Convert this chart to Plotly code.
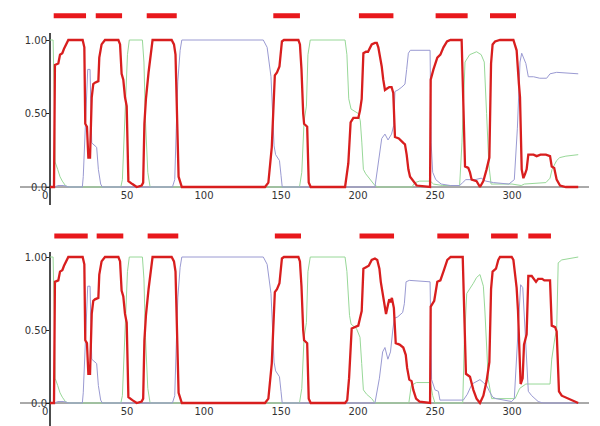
import plotly.graph_objects as go

# ---------------- data: top panel ----------------
top_red_x = [0, 2.6, 3.2, 5.4, 6.5, 8.0, 9.1, 10.5, 11.9, 21.2, 22.3, 22.9, 24.0, 24.9, 26.0, 27.1, 28.1, 29.2, 31.4, 32.0,
             33.5, 35.7, 44.4, 45.5, 46.5, 47.6, 48.7, 49.8, 50.9, 53.5, 56.3, 59.5, 60.5, 61.3, 62.3, 64.0, 65.5, 66.6,
             79.0, 80.5, 81.5, 82.5, 83.5, 85.6, 139.6, 141.8, 144.0, 146.0, 147.4, 149.0, 150.6, 151.9, 161.3, 162.3,
             163.3, 164.4, 165.0, 167.0, 168.0, 169.3, 191.6, 193.7, 195.2, 197.0, 200.2, 201.3, 202.4, 203.5, 205.2,
             206.5, 207.4, 208.9, 211.0, 212.2, 213.2, 214.3, 215.4, 216.4, 217.5, 218.9, 220.3, 221.8, 222.9, 224.0,
             226.5, 229.4, 230.5, 231.6, 232.7, 233.8, 235.9, 238.1, 246.8, 247.2, 249.0, 251.5, 253.5, 255.5, 257.8,
             260.0, 267.3, 269.5, 271.6, 272.7, 273.8, 277.0, 279.2, 281.4, 283.5, 285.3, 286.4, 287.4, 289.0, 292.2,
             300.9, 303.0, 304.5, 305.2, 306.3, 307.4, 308.5, 309.5, 310.6, 314.0, 316.0, 318.5, 322.0, 324.7, 325.8,
             327.4, 329.0, 331.2, 335.0, 343.0]
top_red_y = [0, 0, 0.83, 0.84, 0.90, 0.91, 0.94, 0.97, 1.0, 1.0, 0.95, 0.43, 0.41, 0.20, 0.20, 0.61, 0.70, 0.71, 0.72, 0.88,
             0.97, 1.0, 1.0, 0.97, 0.77, 0.73, 0.61, 0.55, 0.04, 0.02, 0.0, 0.01, 0.03, 0.43, 0.60, 0.78, 0.93, 1.0,
             1.0, 0.97, 0.90, 0.55, 0.07, 0.0, 0.0, 0.03, 0.27, 0.76, 0.78, 0.82, 0.99, 1.0, 1.0, 0.97,
             0.80, 0.50, 0.43, 0.41, 0.03, 0.0, 0.0, 0.16, 0.44, 0.47, 0.47, 0.52, 0.60, 0.91, 0.92,
             0.92, 0.94, 0.97, 0.98, 0.98, 0.95, 0.89, 0.82, 0.73, 0.66, 0.67, 0.68, 0.68, 0.64, 0.34,
             0.33, 0.30, 0.29, 0.22, 0.12, 0.07, 0.04, 0.01, 0.0, 0.73, 0.80, 0.88, 0.90, 0.95, 0.99,
             1.0, 1.0, 0.14, 0.13, 0.10, 0.05, 0.04, 0.0, 0.04, 0.12, 0.20, 0.84, 0.97, 0.99, 1.0,
             1.0, 0.93, 0.70, 0.61, 0.12, 0.06, 0.09, 0.12, 0.22, 0.22, 0.21, 0.22, 0.22, 0.21, 0.14,
             0.13, 0.05, 0.01, 0.0, 0.0]

top_blue_x = [0, 3, 5, 9, 12, 21.0, 21.6, 22.7, 24.5, 26.0, 26.6, 27.1, 30.3, 31.4, 32.9, 34.0, 79.5, 81.0, 82.0, 83.0,
              84.5, 85.6, 138.5, 141.0, 143.5, 144.5, 145.5, 146.5, 149.0, 150.0, 150.8, 211.0, 213.2, 215.4, 217.5,
              219.5, 221.8, 223.2, 224.0, 226.0, 228.5, 230.5, 231.6, 232.7, 234.0, 246.8, 247.5, 248.5, 250.5, 254.0,
              260.0, 266.0, 268.0, 270.0, 276.0, 280.0, 283.0, 288.0, 298.0, 301.5, 303.5, 305.2, 306.3, 307.4, 309.0,
              310.6, 314.0, 318.0, 322.5, 324.7, 329.0, 343.0]
top_blue_y = [0.0, 0.0, 0.01, 0.01, 0.0, 0.0, 0.07, 0.40, 0.80, 0.80, 0.40, 0.30, 0.27, 0.12, 0.02, 0.0, 0.0, 0.05, 0.40, 0.72,
              0.93, 1.0, 1.0, 0.95, 0.75, 0.50, 0.28, 0.22, 0.18, 0.08, 0.0, 0.0, 0.16, 0.33, 0.36,
              0.32, 0.36, 0.42, 0.65, 0.66, 0.68, 0.70, 0.80, 0.91, 0.93, 0.93, 0.30, 0.10, 0.05, 0.02,
              0.01, 0.01, 0.03, 0.05, 0.05, 0.06, 0.04, 0.03, 0.02, 0.05, 0.40, 0.85, 0.91, 0.88, 0.84,
              0.75, 0.75, 0.74, 0.74, 0.77, 0.78, 0.77]

top_green_x = [0, 2.0, 2.8, 3.3, 5.0, 6.5, 8.0, 10.0, 12.0, 46.0, 47.0, 48.0, 49.0, 50.3, 51.5, 60.0, 61.0, 62.0, 63.5,
               65.0, 162.0, 163.5, 165.0, 166.5, 167.5, 169.0, 191.6, 192.8, 194.0, 195.5, 200.2, 201.5, 202.5, 203.5,
               205.0, 208.0, 211.0, 213.0, 235.0, 237.0, 240.0, 247.0, 249.0, 255.0, 266.0, 267.5, 269.5, 272.5, 277.0,
               280.0, 282.0, 283.5, 285.0, 286.4, 300.0, 306.0, 308.0, 322.0, 324.7, 326.0, 329.0, 331.0, 335.0, 343.0]
top_green_y = [1.0, 1.0, 0.60, 0.17, 0.12, 0.07, 0.04, 0.01, 0.0, 0.0, 0.05, 0.30, 0.48, 0.90, 1.0, 1.0, 0.85, 0.45, 0.10,
               0.0, 0.0, 0.10, 0.45, 0.55, 0.90, 1.0, 1.0, 0.90, 0.60, 0.53, 0.50, 0.45, 0.30, 0.12,
               0.09, 0.05, 0.01, 0.0, 0.0, 0.03, 0.04, 0.04, 0.02, 0.01, 0.01, 0.30, 0.85, 0.90, 0.92,
               0.90, 0.85, 0.50, 0.15, 0.02, 0.02, 0.01, 0.02, 0.03, 0.06, 0.12, 0.18, 0.20, 0.21, 0.22]

top_bar_start = [2.4, 29.7, 62.8, 145.0, 200.6, 250.4, 285.7]
top_bar_end = [23.4, 46.8, 82.3, 162.3, 223.0, 271.2, 302.6]

# ---------------- data: bottom panel ----------------
bot_red_x = [0, 2.6, 3.2, 5.4, 6.5, 8.0, 9.1, 10.5, 11.9, 21.2, 22.3, 22.9, 24.0, 24.9, 26.0, 27.1, 28.1, 29.2, 31.4, 32.0,
             33.5, 35.7, 44.4, 45.5, 46.5, 47.6, 48.7, 49.8, 50.9, 53.5, 56.3, 59.5, 60.5, 61.3, 62.3, 64.0, 65.5, 66.6,
             79.0, 80.5, 81.5, 82.5, 83.5, 85.6, 139.6, 141.8, 144.0, 146.0, 147.4, 149.0, 150.6, 151.9, 161.3, 162.3,
             163.3, 164.4, 165.0, 167.0, 168.0, 169.3, 191.6, 193.0, 194.2, 195.9, 198.0, 200.2, 201.3, 202.4, 203.5,
             205.5, 207.0, 208.9, 211.0, 212.5, 213.9, 214.8, 216.0, 217.3, 218.2, 219.4, 220.3, 221.2, 222.0, 223.3,
             224.5, 227.0, 229.4, 231.0, 231.9, 233.3, 234.8, 235.9, 237.7, 240.0, 246.8, 247.2, 249.5, 251.5, 253.5,
             255.8, 258.0, 260.2, 268.0, 270.1, 272.7, 274.9, 277.0, 279.2, 281.4, 283.5, 285.3, 286.4, 287.4, 289.6,
             291.1, 292.2, 299.8, 300.9, 303.0, 303.9, 304.8, 305.6, 306.9, 307.8, 309.5, 310.6, 312.8, 314.5, 315.6,
             317.0, 319.6, 321.0, 324.7, 325.8, 328.0, 329.0, 329.7, 330.5, 332.3, 334.4, 336.6, 340.0, 343.0]
bot_red_y = [0, 0, 0.83, 0.84, 0.90, 0.91, 0.94, 0.97, 1.0, 1.0, 0.95, 0.43, 0.41, 0.20, 0.20, 0.61, 0.70, 0.71, 0.72, 0.88,
             0.97, 1.0, 1.0, 0.97, 0.77, 0.73, 0.61, 0.55, 0.04, 0.02, 0.0, 0.01, 0.03, 0.43, 0.60, 0.78, 0.93, 1.0,
             1.0, 0.97, 0.90, 0.55, 0.07, 0.0, 0.0, 0.03, 0.27, 0.76, 0.78, 0.82, 0.99, 1.0, 1.0, 0.97,
             0.80, 0.50, 0.43, 0.41, 0.03, 0.0, 0.0, 0.02, 0.17, 0.51, 0.52, 0.53, 0.58, 0.63, 0.92,
             0.93, 0.94, 0.98, 0.99, 0.98, 0.92, 0.83, 0.76, 0.67, 0.61, 0.67, 0.71, 0.69, 0.72, 0.65,
             0.41, 0.40, 0.38, 0.33, 0.24, 0.16, 0.15, 0.09, 0.03, 0.01, 0.0, 0.66, 0.70, 0.83, 0.84,
             0.91, 0.98, 1.0, 1.0, 0.20, 0.18, 0.09, 0.03, 0.0, 0.05, 0.15, 0.28, 0.78, 0.90, 0.92,
             0.98, 1.0, 1.0, 0.98, 0.79, 0.63, 0.40, 0.13, 0.17, 0.40, 0.47, 0.87, 0.87, 0.85, 0.83,
             0.85, 0.85, 0.84, 0.84, 0.53, 0.52, 0.49, 0.28, 0.08, 0.05, 0.04, 0.03, 0.01, 0.0]

bot_blue_x = [0, 3, 5, 9, 12, 21.0, 21.6, 22.7, 24.5, 26.0, 26.6, 27.1, 30.3, 31.4, 32.9, 34.0, 79.5, 81.0, 82.0, 83.0,
              84.5, 85.6, 138.5, 141.0, 143.5, 144.5, 145.5, 146.5, 149.0, 150.0, 150.8, 211.0, 213.9, 216.0, 217.5,
              219.4, 221.1, 222.6, 223.6, 225.8, 229.0, 230.1, 231.2, 233.3, 246.8, 247.8, 250.0, 252.2, 253.2, 268.4,
              271.0, 274.0, 279.2, 281.4, 283.5, 285.3, 287.5, 289.6, 299.8, 301.5, 303.0, 304.5, 305.6, 307.0, 308.5,
              309.5, 310.6, 312.8, 315.0, 317.0, 320.0, 343.0]
bot_blue_y = [0.0, 0.0, 0.01, 0.01, 0.0, 0.0, 0.07, 0.40, 0.80, 0.80, 0.40, 0.30, 0.27, 0.12, 0.02, 0.0, 0.0, 0.05, 0.40, 0.72,
              0.93, 1.0, 1.0, 0.95, 0.75, 0.50, 0.28, 0.22, 0.18, 0.08, 0.0, 0.0, 0.17, 0.35, 0.38,
              0.30, 0.35, 0.50, 0.58, 0.59, 0.62, 0.68, 0.83, 0.84, 0.83, 0.16, 0.09, 0.08, 0.02, 0.02,
              0.06, 0.13, 0.16, 0.14, 0.12, 0.08, 0.04, 0.03, 0.01, 0.03, 0.30, 0.65, 0.81, 0.79, 0.50,
              0.27, 0.08, 0.05, 0.03, 0.01, 0.0, 0.0]

bot_green_x = [0, 2.0, 2.8, 3.3, 5.0, 6.5, 8.0, 10.0, 12.0, 46.0, 47.0, 48.0, 49.0, 50.3, 51.5, 60.0, 61.0, 62.0, 63.5,
               65.0, 162.0, 163.5, 165.0, 166.5, 167.5, 169.0, 191.6, 192.8, 194.5, 195.5, 199.0, 201.3, 202.4, 203.5,
               205.6, 208.9, 211.0, 233.0, 234.6, 237.9, 247.0, 248.5, 250.0, 268.0, 269.0, 270.6, 274.9, 277.0, 279.2,
               281.4, 282.4, 283.5, 284.6, 286.8, 302.0, 305.0, 309.0, 324.7, 325.8, 327.9, 329.0, 330.0, 332.3, 343.0]
bot_green_y = [1.0, 1.0, 0.60, 0.17, 0.12, 0.07, 0.04, 0.01, 0.0, 0.0, 0.05, 0.30, 0.48, 0.90, 1.0, 1.0, 0.85, 0.45, 0.10,
               0.0, 0.0, 0.10, 0.45, 0.55, 0.90, 1.0, 1.0, 0.90, 0.60, 0.54, 0.51, 0.45, 0.27, 0.09,
               0.06, 0.03, 0.0, 0.0, 0.12, 0.14, 0.14, 0.05, 0.0, 0.0, 0.40, 0.75, 0.82, 0.86, 0.88,
               0.80, 0.63, 0.40, 0.16, 0.03, 0.03, 0.10, 0.13, 0.13, 0.30, 0.45, 0.50, 0.96, 0.98, 1.0]

bot_bar_start = [2.8, 30.3, 63.4, 146.0, 201.0, 251.5, 286.4, 310.6]
bot_bar_end = [24.5, 47.6, 83.3, 163.0, 223.4, 272.0, 303.7, 325.3]

x_tick_vals = [0, 50, 100, 150, 200, 250, 300]
x_tick_text = ["0\u00a0\u00a0\u00a0", "50", "100", "150", "200", "250", "300"]
y_tick_vals = [0, 0.5, 1.0]
y_tick_text = ["0.0", "0.50", "1.00"]

# ---------------- styling ----------------
RED = "#d81e1e"
BAR = "#e8181c"
BLUE = "#9a9ad2"
GREEN = "#98d898"
FONT = dict(family="DejaVu Sans", size=10, color="#333333")

W, H = 600, 426
OFF = 8  # page body margin: page pixel = figure pixel + OFF


def fx(page_x):
    return page_x - OFF


def fy(page_y):
    return page_y - OFF


ML = fx(50)            # y axis (x = 0) at page x 50
PLOT_RIGHT = fx(589)   # x = 350 at page x 589
MR = W - PLOT_RIGHT

fig = go.Figure()


def bar_xy(starts, ends, level):
    xs, ys = [], []
    for s, e in zip(starts, ends):
        xs += [s, e, None]
        ys += [level, level, None]
    return xs, ys


panels = [
    ("x", "y", top_red_x, top_red_y, top_blue_x, top_blue_y, top_green_x, top_green_y,
     top_bar_start, top_bar_end, 1.165),
    ("x2", "y2", bot_red_x, bot_red_y, bot_blue_x, bot_blue_y, bot_green_x, bot_green_y,
     bot_bar_start, bot_bar_end, 1.144),
]

for xa, ya, rx, ry, bx, by, gx, gy, bs, be, lvl in panels:
    fig.add_trace(go.Scatter(x=gx, y=gy, mode="lines", line=dict(color=GREEN, width=1),
                             xaxis=xa, yaxis=ya, showlegend=False, hoverinfo="skip"))
    fig.add_trace(go.Scatter(x=bx, y=by, mode="lines", line=dict(color=BLUE, width=1),
                             xaxis=xa, yaxis=ya, showlegend=False, hoverinfo="skip"))
    fig.add_trace(go.Scatter(x=rx, y=ry, mode="lines", line=dict(color=RED, width=2.3),
                             xaxis=xa, yaxis=ya, showlegend=False, hoverinfo="skip"))
    brx, bry = bar_xy(bs, be, lvl)
    fig.add_trace(go.Scatter(x=brx, y=bry, mode="lines", line=dict(color=BAR, width=5),
                             xaxis=xa, yaxis=ya, showlegend=False, hoverinfo="skip",
                             connectgaps=False))

# page-pixel geometry of the two panels
top_zero, top_unit = 187, 147
bot_zero, bot_unit = 403, 146
top_px = (10, 192)
bot_px = (218, 408)


def yrange(zero, unit, px):
    return [-(px[1] - zero) / unit, (zero - px[0]) / unit]


def dom(px):
    return [1 - fy(px[1]) / H, 1 - fy(px[0]) / H]


xcommon = dict(range=[0, 350], showgrid=False, zeroline=False, showline=False, automargin=False,
               tickmode="array", tickvals=x_tick_vals, ticktext=x_tick_text,
               ticks="", tickfont=FONT, ticklabelstandoff=-4, fixedrange=True)
ycommon = dict(showgrid=False, zeroline=False, showline=False, automargin=False,
               tickmode="array", tickvals=y_tick_vals, ticktext=y_tick_text,
               ticks="outside", ticklen=3, tickcolor="#222222", tickwidth=1,
               tickfont=FONT, ticklabelstandoff=-3, fixedrange=True)

fig.update_layout(
    width=W, height=H,
    margin=dict(l=ML, r=MR, t=0, b=0),
    paper_bgcolor="white", plot_bgcolor="white",
    xaxis=dict(domain=[0, 1], anchor="y", **xcommon),
    yaxis=dict(domain=dom(top_px), anchor="x", range=yrange(top_zero, top_unit, top_px), **ycommon),
    xaxis2=dict(domain=[0, 1], anchor="y2", **xcommon),
    yaxis2=dict(domain=dom(bot_px), anchor="x2", range=yrange(bot_zero, bot_unit, bot_px), **ycommon),
)

pw = W - ML - MR
shapes = []
# horizontal axis lines at y = 0 (extend slightly left of the vertical axis)
for ya in ("y", "y2"):
    shapes.append(dict(type="line", xref="paper", yref=ya, x0=(20 - 50) / pw, x1=1.0, y0=0, y1=0,
                       line=dict(color="#555555", width=1), layer="below"))
# vertical axis lines at x = 0
shapes.append(dict(type="line", xref="paper", yref="paper", x0=0, x1=0,
                   y0=1 - fy(205) / H, y1=1 - fy(33) / H,
                   line=dict(color="#111111", width=1.5), layer="below"))
shapes.append(dict(type="line", xref="paper", yref="paper", x0=0, x1=0,
                   y0=1 - fy(434) / H, y1=1 - fy(252) / H,
                   line=dict(color="#111111", width=1.5), layer="below"))
fig.update_layout(shapes=shapes)

fig.write_html("out.html")
